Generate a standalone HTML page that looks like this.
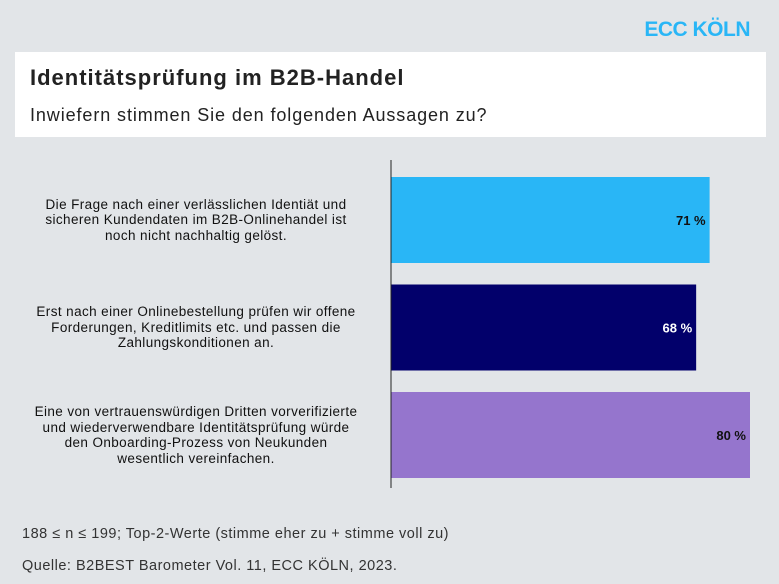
<!DOCTYPE html>
<html><head><meta charset="utf-8"><style>
body{margin:0;width:779px;height:584px;background:#e2e5e8;font-family:"Liberation Sans",sans-serif;position:relative;overflow:hidden}
.abs{position:absolute}
.lbl{position:absolute;left:6px;width:380px;text-align:center;font-size:13.5px;letter-spacing:0.4px;line-height:15.5px;color:#111}
</style></head><body>
<div class="abs" style="right:29px;top:18px;font-size:21px;font-weight:bold;color:#29b6f6;letter-spacing:-0.5px">ECC KÖLN</div>
<div class="abs" style="left:15px;top:52px;width:751px;height:85px;background:#fff"></div>
<div class="abs" style="left:30px;top:65px;font-size:22px;letter-spacing:1px;font-weight:bold;color:#222">Identitätsprüfung im B2B-Handel</div>
<div class="abs" style="left:30px;top:105px;font-size:18px;letter-spacing:0.9px;color:#222">Inwiefern stimmen Sie den folgenden Aussagen zu?</div>
<svg id="chart" class="abs" style="left:0;top:0" width="779" height="584"></svg>
<div id="labels"></div>
<div class="abs" style="left:22px;top:526px;font-size:14.5px;letter-spacing:0.5px;color:#333">188 ≤ n ≤ 199; Top-2-Werte (stimme eher zu + stimme voll zu)</div>
<div class="abs" style="left:22px;top:558px;font-size:14.5px;letter-spacing:0.5px;color:#333">Quelle: B2BEST Barometer Vol. 11, ECC KÖLN, 2023.</div>
<script>
const categories=["Die Frage nach einer verlässlichen Identiät und<br>sicheren Kundendaten im B2B-Onlinehandel ist<br>noch nicht nachhaltig gelöst.","Erst nach einer Onlinebestellung prüfen wir offene<br>Forderungen, Kreditlimits etc. und passen die<br>Zahlungskonditionen an.","Eine von vertrauenswürdigen Dritten vorverifizierte<br>und wiederverwendbare Identitätsprüfung würde<br>den Onboarding-Prozess von Neukunden<br>wesentlich vereinfachen."];
const values=[71,68,80];
const colors=["#29b6f6","#02006b","#9575cd"];
const textColors=["#111","#fff","#111"];
const x0=391,pxPer=359/80,y0=177,step=107.5,bh=86;
const xs=v=>x0+v*pxPer, ys=i=>y0+i*step;
const svg=document.getElementById('chart'),NS="http://www.w3.org/2000/svg";
values.forEach((v,i)=>{
 const r=document.createElementNS(NS,'rect');
 r.setAttribute('x',x0);r.setAttribute('y',ys(i));r.setAttribute('width',xs(v)-x0);r.setAttribute('height',bh);r.setAttribute('fill',colors[i]);
 
 
 svg.appendChild(r);
 const t=document.createElementNS(NS,'text');
 t.setAttribute('x',xs(v)-4);t.setAttribute('y',ys(i)+bh/2+5);t.setAttribute('text-anchor','end');
 t.setAttribute('font-size','13');t.setAttribute('font-weight','bold');t.setAttribute('fill',textColors[i]);t.setAttribute('font-family','Liberation Sans');
 t.textContent=v+' %';
 
 
 svg.appendChild(t);
 const d=document.createElement('div');d.className='lbl';
 d.innerHTML=categories[i];
 const lines=categories[i].split('<br>').length;
 d.style.top=(ys(i)+bh/2-lines*15.5/2)+'px';
 
 
 document.getElementById('labels').appendChild(d);
});
const ax=document.createElementNS(NS,'line');
ax.setAttribute('x1',x0);ax.setAttribute('x2',x0);ax.setAttribute('y1',160);ax.setAttribute('y2',488);ax.setAttribute('stroke','#222');ax.setAttribute('stroke-width','1');


svg.appendChild(ax);
</script>
</body></html>
